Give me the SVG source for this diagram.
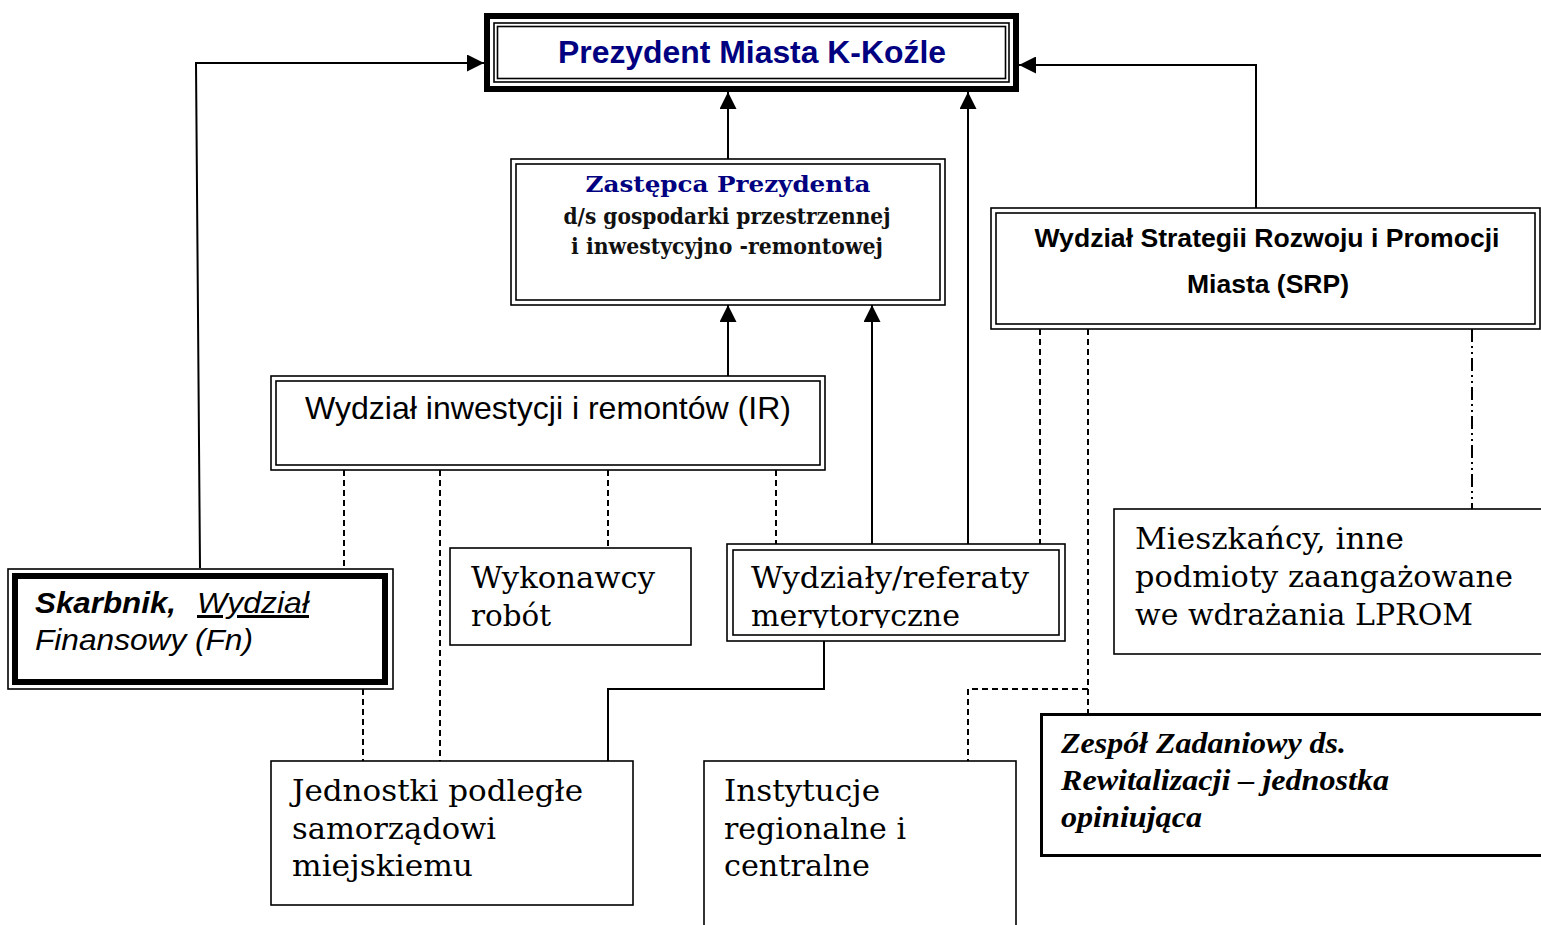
<svg xmlns="http://www.w3.org/2000/svg" width="1541" height="925" viewBox="0 0 1541 925">
<style>
.thin{fill:none;stroke:#000;stroke-width:1.6}
.box{fill:#fff;stroke:#000;stroke-width:1.6}
.con{fill:none;stroke:#000;stroke-width:2}
.dash{fill:none;stroke:#000;stroke-width:2;stroke-dasharray:6,4}
.dashdot{fill:none;stroke:#000;stroke-width:2;stroke-dasharray:13,4,2,4,2,4}
.sans{font-family:"Liberation Sans",Arial,sans-serif}
.serif{font-family:"DejaVu Serif","Liberation Serif",serif}
.times{font-family:"Liberation Serif","Times New Roman",serif}
</style>
<defs>
<marker id="arr" viewBox="0 0 10 10" refX="10" refY="5" markerWidth="18" markerHeight="17" markerUnits="userSpaceOnUse" orient="auto">
<path d="M0,0 L10,5 L0,10 Z" fill="#000"/>
</marker>
<clipPath id="clipW"><rect x="733" y="550" width="326" height="78"/></clipPath>
</defs>
<rect x="0" y="0" width="1541" height="925" fill="#fff"/>

<g id="connectors">
<path class="con" d="M200,568 L196,63 L484,63" marker-end="url(#arr)"/>
<path class="con" d="M1256,208 L1256,65 L1019,65" marker-end="url(#arr)"/>
<path class="con" d="M728,159 L728,92" marker-end="url(#arr)"/>
<path class="con" d="M968,544 L968,92" marker-end="url(#arr)"/>
<path class="con" d="M728,376 L728,305" marker-end="url(#arr)"/>
<path class="con" d="M872,544 L872,305" marker-end="url(#arr)"/>
<path class="con" d="M824,641 L824,689 L608,689 L608,761"/>
<path class="dash" d="M344,470 V568"/>
<path class="dash" d="M440,470 V761"/>
<path class="dash" d="M608,470 V548"/>
<path class="dash" d="M776,470 V544"/>
<path class="dash" d="M363,689 V761"/>
<path class="dash" d="M1040,329 V544"/>
<path class="dash" d="M1088,329 V713"/>
<path class="dash" d="M1088,689 H968 V761"/>
<path class="dashdot" d="M1472,329 V509"/>
</g>

<g id="prezydent">
<rect x="487" y="16" width="529" height="73" fill="#fff" stroke="#000" stroke-width="6"/>
<rect x="494" y="23" width="515" height="59" class="thin"/>
<rect x="497.5" y="26.5" width="508" height="52" class="thin"/>
<text x="752" y="63" text-anchor="middle" class="sans" font-size="31" font-weight="bold" fill="#000080" textLength="388" lengthAdjust="spacingAndGlyphs">Prezydent Miasta K-Koźle</text>
</g>

<g id="zastepca">
<rect x="511" y="159" width="434" height="146" class="box"/>
<rect x="516" y="164" width="424" height="136" class="thin"/>
<text x="728" y="192" text-anchor="middle" class="serif" font-size="23" font-weight="bold" fill="#000080" textLength="285" lengthAdjust="spacingAndGlyphs">Zastępca Prezydenta</text>
<text x="727" y="224" text-anchor="middle" class="serif" font-size="23" font-weight="bold" fill="#111" textLength="327" lengthAdjust="spacingAndGlyphs">d/s gospodarki przestrzennej</text>
<text x="727" y="254" text-anchor="middle" class="serif" font-size="23" font-weight="bold" fill="#111" textLength="312" lengthAdjust="spacingAndGlyphs">i inwestycyjno -remontowej</text>
</g>

<g id="srp">
<rect x="991" y="208" width="549" height="121" class="box"/>
<rect x="996" y="213" width="539" height="111" class="thin"/>
<text x="1267" y="247" text-anchor="middle" class="sans" font-size="26" font-weight="bold" fill="#000" textLength="465" lengthAdjust="spacingAndGlyphs">Wydział Strategii Rozwoju i Promocji</text>
<text x="1268" y="293" text-anchor="middle" class="sans" font-size="26" font-weight="bold" fill="#000" textLength="162" lengthAdjust="spacingAndGlyphs">Miasta (SRP)</text>
</g>

<g id="ir">
<rect x="271" y="376" width="554" height="94" class="box"/>
<rect x="276" y="381" width="544" height="84" class="thin"/>
<text x="305" y="419" class="sans" font-size="32" fill="#000" textLength="486" lengthAdjust="spacingAndGlyphs">Wydział inwestycji i remontów (IR)</text>
</g>

<g id="skarbnik">
<rect x="8" y="569" width="385" height="120" class="box"/>
<rect x="15" y="576" width="370" height="106" fill="none" stroke="#000" stroke-width="6"/>
<text x="35" y="613" class="sans" font-size="30" font-weight="bold" font-style="italic" fill="#000" textLength="141" lengthAdjust="spacingAndGlyphs">Skarbnik,</text>
<text x="197" y="613" class="sans" font-size="30" font-style="italic" fill="#000" text-decoration="underline" textLength="112" lengthAdjust="spacingAndGlyphs">Wydział</text>
<text x="35" y="650" class="sans" font-size="30" font-style="italic" fill="#000" textLength="218" lengthAdjust="spacingAndGlyphs">Finansowy (Fn)</text>
</g>

<g id="wykonawcy">
<rect x="450" y="548" width="241" height="97" class="box"/>
<text x="471" y="588" class="serif" font-size="29" fill="#000" textLength="184" lengthAdjust="spacingAndGlyphs">Wykonawcy</text>
<text x="471" y="626" class="serif" font-size="29" fill="#000" textLength="80" lengthAdjust="spacingAndGlyphs">robót</text>
</g>

<g id="wydzialy">
<rect x="727" y="544" width="338" height="97" class="box"/>
<rect x="733" y="550" width="326" height="85" class="thin"/>
<g clip-path="url(#clipW)">
<text x="751" y="588" class="serif" font-size="29" fill="#000" textLength="278" lengthAdjust="spacingAndGlyphs">Wydziały/referaty</text>
<text x="751" y="626" class="serif" font-size="29" fill="#000" textLength="209" lengthAdjust="spacingAndGlyphs">merytoryczne</text>
</g>
</g>

<g id="mieszkancy">
<rect x="1114" y="509" width="430" height="145" class="box"/>
<text x="1135" y="549" class="serif" font-size="29" fill="#000" textLength="269" lengthAdjust="spacingAndGlyphs">Mieszkańcy, inne</text>
<text x="1135" y="587" class="serif" font-size="29" fill="#000" textLength="378" lengthAdjust="spacingAndGlyphs">podmioty zaangażowane</text>
<text x="1135" y="625" class="serif" font-size="29" fill="#000" textLength="338" lengthAdjust="spacingAndGlyphs">we wdrażania LPROM</text>
</g>

<g id="zespol">
<rect x="1041.5" y="714.5" width="503" height="141" fill="#fff" stroke="#000" stroke-width="3"/>
<text x="1061" y="753" class="times" font-size="29" font-weight="bold" font-style="italic" fill="#000" textLength="285" lengthAdjust="spacingAndGlyphs">Zespół Zadaniowy ds.</text>
<text x="1061" y="790" class="times" font-size="29" font-weight="bold" font-style="italic" fill="#000" textLength="328" lengthAdjust="spacingAndGlyphs">Rewitalizacji – jednostka</text>
<text x="1061" y="827" class="times" font-size="29" font-weight="bold" font-style="italic" fill="#000" textLength="141" lengthAdjust="spacingAndGlyphs">opiniująca</text>
</g>

<g id="jednostki">
<rect x="271" y="761" width="362" height="144" class="box"/>
<text x="292" y="801" class="serif" font-size="29" fill="#000" textLength="291" lengthAdjust="spacingAndGlyphs">Jednostki podległe</text>
<text x="292" y="839" class="serif" font-size="29" fill="#000" textLength="204" lengthAdjust="spacingAndGlyphs">samorządowi</text>
<text x="292" y="876" class="serif" font-size="29" fill="#000" textLength="181" lengthAdjust="spacingAndGlyphs">miejskiemu</text>
</g>

<g id="instytucje">
<rect x="704" y="761" width="312" height="180" class="box"/>
<text x="724" y="801" class="serif" font-size="29" fill="#000" textLength="156" lengthAdjust="spacingAndGlyphs">Instytucje</text>
<text x="724" y="839" class="serif" font-size="29" fill="#000" textLength="182" lengthAdjust="spacingAndGlyphs">regionalne i</text>
<text x="724" y="876" class="serif" font-size="29" fill="#000" textLength="146" lengthAdjust="spacingAndGlyphs">centralne</text>
</g>
</svg>
